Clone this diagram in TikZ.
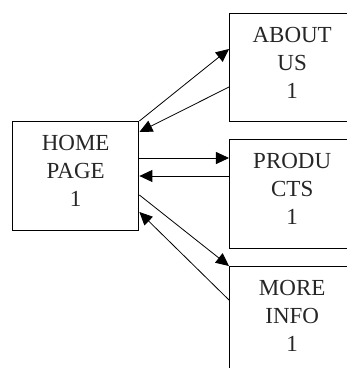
\documentclass[tikz,border=0pt]{standalone}
\usepackage{fontspec}
\setmainfont{Liberation Serif}
\usetikzlibrary{arrows.meta}
\begin{document}
\begin{tikzpicture}[x=1pt,y=-1pt,
  pagebox/.style={draw=black,line width=1.4pt,inner sep=0pt,anchor=north west,minimum width=#1},
  pagebox/.default=126pt,
  boxtext/.style={anchor=north,inner sep=0pt,align=center,font=\fontsize{23}{28}\selectfont,text=black!85},
  link/.style={draw=black,line width=0.8pt,-{Triangle[length=13pt,width=12pt]}}]
\useasboundingbox (0,0) rectangle (347,368);
\clip (0,0) rectangle (347,368);
\node[pagebox, minimum height=109pt] (home) at (12,121) {};
\node[pagebox=127pt, minimum height=108pt] (about) at (229,13) {};
\node[pagebox=127pt, minimum height=109pt] (prod) at (229,139) {};
\node[pagebox=127pt, minimum height=109pt] (more) at (229,266) {};
\node[boxtext] (homet) at ([yshift=-14pt]home.north) {HOME\\PAGE\\1};
\node[boxtext] (aboutt) at ([xshift=-1pt,yshift=-14pt]about.north) {ABOUT\\US\\1};
\node[boxtext] (prodt) at ([xshift=-1pt,yshift=-14pt]prod.north) {PRODU\\CTS\\1};
\node[boxtext] (moret) at ([xshift=-1pt,yshift=-14pt]more.north) {MORE\\INFO\\1};
\draw[link] (home.north east) -- ([yshift=-36pt]about.north west);
\draw[link] ([yshift=-74pt]about.north west) -- ([yshift=-11pt]home.north east);
\draw[link] ([yshift=-37pt]home.north east) -- ([yshift=-19pt]prod.north west);
\draw[link] ([yshift=-37pt]prod.north west) -- ([yshift=-55pt]home.north east);
\draw[link] ([yshift=-74pt]home.north east) -- (more.north west);
\draw[link] ([yshift=-34pt]more.north west) -- ([yshift=-91pt]home.north east);
\end{tikzpicture}
\end{document}
